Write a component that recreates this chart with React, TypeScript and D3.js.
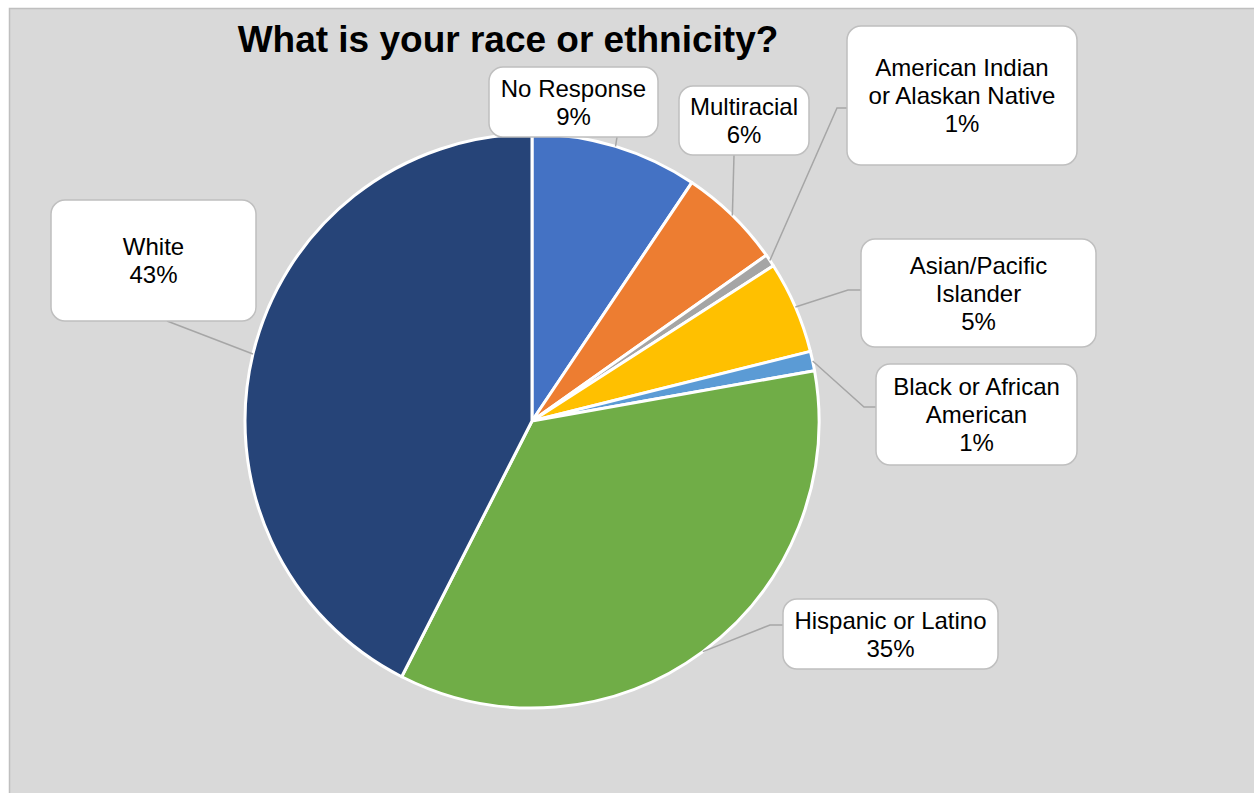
import React from "react";
import * as d3 from "d3";

const title = "What is your race or ethnicity?";
const categories = [
  "No Response",
  "Multiracial",
  "American Indian or Alaskan Native",
  "Asian/Pacific Islander",
  "Black or African American",
  "Hispanic or Latino",
  "White",
];
const values = [9.4, 5.8, 0.7, 5.2, 1.1, 35.3, 42.5];
const labelLines = [
  ["No Response"],
  ["Multiracial"],
  ["American Indian", "or Alaskan Native"],
  ["Asian/Pacific", "Islander"],
  ["Black or African", "American"],
  ["Hispanic or Latino"],
  ["White"],
];
const colors = ["#4472C4", "#ED7D31", "#A5A5A5", "#FFC000", "#5B9BD5", "#70AD47", "#264478"];

// layout of label boxes: [x, y, w, h], attach point, optional elbow
const boxLayout = [
  { box: [489, 67, 169, 70], attach: [617, 137], elbow: null },
  { box: [679, 86, 130, 69], attach: [734, 155], elbow: null },
  { box: [847, 26, 230, 139], attach: [847, 108], elbow: [837, 108] },
  { box: [861, 239, 235, 108], attach: [861, 290], elbow: [848, 290] },
  { box: [876, 364, 201, 101], attach: [876, 407], elbow: [864, 407] },
  { box: [783, 599, 215, 70], attach: [783, 625], elbow: [770, 625] },
  { box: [51, 200, 205, 121], attach: [167, 321], elbow: null },
];

const W = 1254;
const H = 793;
const cx = 532;
const cy = 421;
const R = 287;
const font = "'Liberation Sans', Arial, sans-serif";

export default function App() {
  const total = d3.sum(values);
  const pie = d3
    .pie<number>()
    .sort(null)
    .value((d) => d)
    .startAngle(0)
    .endAngle(2 * Math.PI);
  const arcs = pie(values);
  const arc = d3.arc<d3.PieArcDatum<number>>().innerRadius(0).outerRadius(R);
  const pct = d3.format(".0%");
  const lineH = 28;

  return (
    <svg
      width={W}
      height={H}
      style={{ position: "absolute", left: 0, top: 0, display: "block" }}
      fontFamily={font}
    >
      <rect x={0} y={0} width={W} height={H} fill="#ffffff" />
      <rect x={9.5} y={8.5} width={W + 10} height={H + 10} fill="#D9D9D9" stroke="#BFBFBF" strokeWidth={1.5} />
      <text x={508} y={52} textAnchor="middle" fontSize={37} fontWeight="bold" fill="#000">
        {title}
      </text>
      <g transform={`translate(${cx},${cy})`}>
        {arcs.map((a, i) => (
          <path key={categories[i]} d={arc(a) || ""} fill={colors[i]} stroke="#ffffff" strokeWidth={3} strokeLinejoin="round" />
        ))}
      </g>
      {arcs.map((a, i) => {
        const mid = (a.startAngle + a.endAngle) / 2;
        const px = cx + R * Math.sin(mid);
        const py = cy - R * Math.cos(mid);
        const L = boxLayout[i];
        const pts: [number, number][] = [[px, py]];
        if (L.elbow) pts.push(L.elbow as [number, number]);
        pts.push(L.attach as [number, number]);
        const line = d3.line()(pts) || "";
        return <path key={"l" + i} d={line} fill="none" stroke="#A6A6A6" strokeWidth={1.5} />;
      })}
      {arcs.map((a, i) => {
        const L = boxLayout[i];
        const [bx, by, bw, bh] = L.box;
        const lines = [...labelLines[i], pct(values[i] / total)];
        const n = lines.length;
        const centerY = by + bh / 2;
        const firstBase = centerY - ((n - 1) * lineH) / 2 + 8.5;
        return (
          <g key={"b" + i}>
            <rect x={bx} y={by} width={bw} height={bh} rx={14} ry={14} fill="#ffffff" stroke="#BFBFBF" strokeWidth={1.5} />
            {lines.map((t, j) => (
              <text key={j} x={bx + bw / 2} y={firstBase + j * lineH} textAnchor="middle" fontSize={24} fill="#000">
                {t}
              </text>
            ))}
          </g>
        );
      })}
    </svg>
  );
}
